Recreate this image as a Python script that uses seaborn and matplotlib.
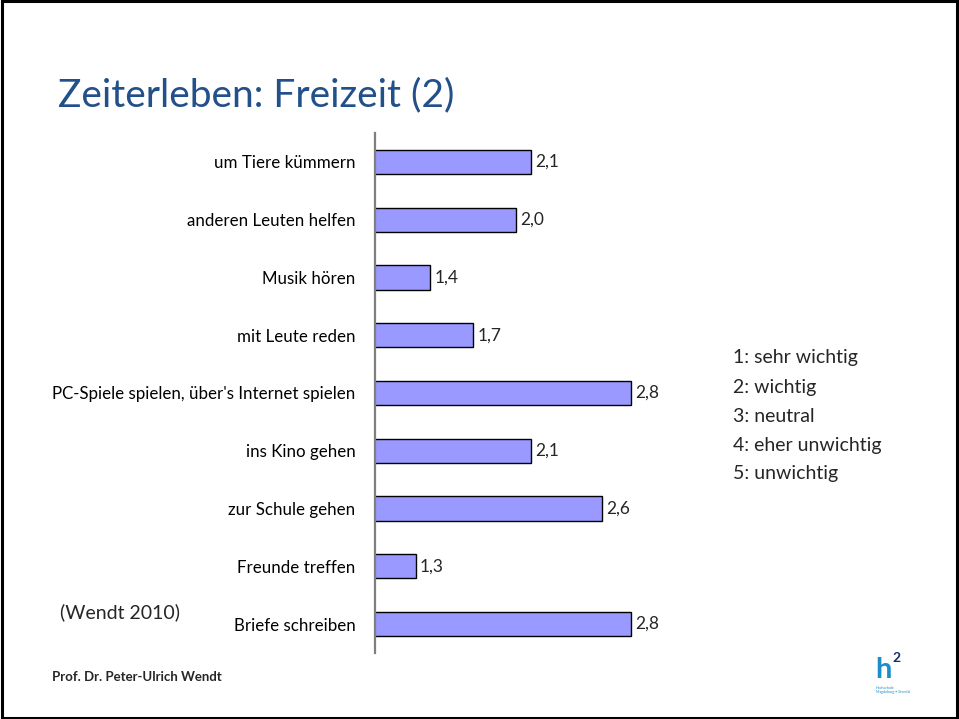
import matplotlib
matplotlib.use("Agg")
import matplotlib.pyplot as plt
import seaborn as sns
import pandas as pd
from matplotlib.patches import Rectangle

# data
activities = [
    "um Tiere kümmern",
    "anderen Leuten helfen",
    "Musik hören",
    "mit Leute reden",
    "PC-Spiele spielen, über's Internet spielen",
    "ins Kino gehen",
    "zur Schule gehen",
    "Freunde treffen",
    "Briefe schreiben",
]
means = [2.1, 2.0, 1.4, 1.7, 2.8, 2.1, 2.6, 1.3, 2.8]
scale_labels = ["1: sehr wichtig", "2: wichtig", "3: neutral",
                "4: eher unwichtig", "5: unwichtig"]

df = pd.DataFrame({"activity": activities, "mean": means})

sns.set_style("white")
plt.rcParams["font.family"] = ["Lato", "DejaVu Sans"]

W, H = 959, 719
fig = plt.figure(figsize=(W / 100, H / 100), dpi=100)

# slide frame
fig.patches.append(Rectangle((0.002, 0.002), 0.996, 0.996, transform=fig.transFigure,
                             fill=False, edgecolor="black", linewidth=2.2))

ax = fig.add_axes([375 / W, 1 - 653 / H, (700 - 375) / W, (653 - 133) / H])
sns.barplot(data=df, x="mean", y="activity", orient="h", color="#9999FF",
            saturation=1, edgecolor="black", linewidth=1.0, width=0.42, ax=ax)

ax.set_xlim(1.017, 1.017 + 325 / 143.7)
ax.set_ylim(8.5, -0.5)
ax.set_xlabel("")
ax.set_ylabel("")
ax.set_xticks([])
ax.tick_params(axis="y", length=0, pad=14, labelsize=12.2, labelcolor="black")
for s in ["top", "right", "bottom"]:
    ax.spines[s].set_visible(False)
ax.spines["left"].set_color("#7f7f7f")
ax.spines["left"].set_linewidth(1.6)

ax.bar_label(ax.containers[0], labels=[f"{v:.1f}".replace(".", ",") for v in means],
             padding=3, fontsize=12.5)

fig.text(58 / W, 1 - 95 / H, "Zeiterleben: Freizeit (2)", fontsize=28,
         color="#22508A", va="center", ha="left")

for i, lab in enumerate(scale_labels):
    fig.text(733 / W, 1 - (358 + i * 29) / H, lab, fontsize=14, va="center", ha="left")

fig.text(60 / W, 1 - 612 / H, "(Wendt 2010)", fontsize=14, va="center", ha="left")
fig.text(52 / W, 1 - 677 / H, "Prof. Dr. Peter-Ulrich Wendt", fontsize=9.5,
         va="center", ha="left", fontweight="bold")

# small h² logo
fig.text(875 / W, 1 - 670 / H, "h", fontsize=21, color="#1C8CCB", fontweight="bold",
         va="center", ha="left")
fig.text(892 / W, 1 - 658 / H, "2", fontsize=10, color="#1B2A6B", fontweight="bold",
         va="center", ha="left")
fig.text(876 / W, 1 - 690 / H, "Hochschule\nMagdeburg • Stendal", fontsize=2.6,
         color="#1C8CCB", va="center", ha="left", linespacing=1.0)

fig.savefig("out.png", dpi=100)
